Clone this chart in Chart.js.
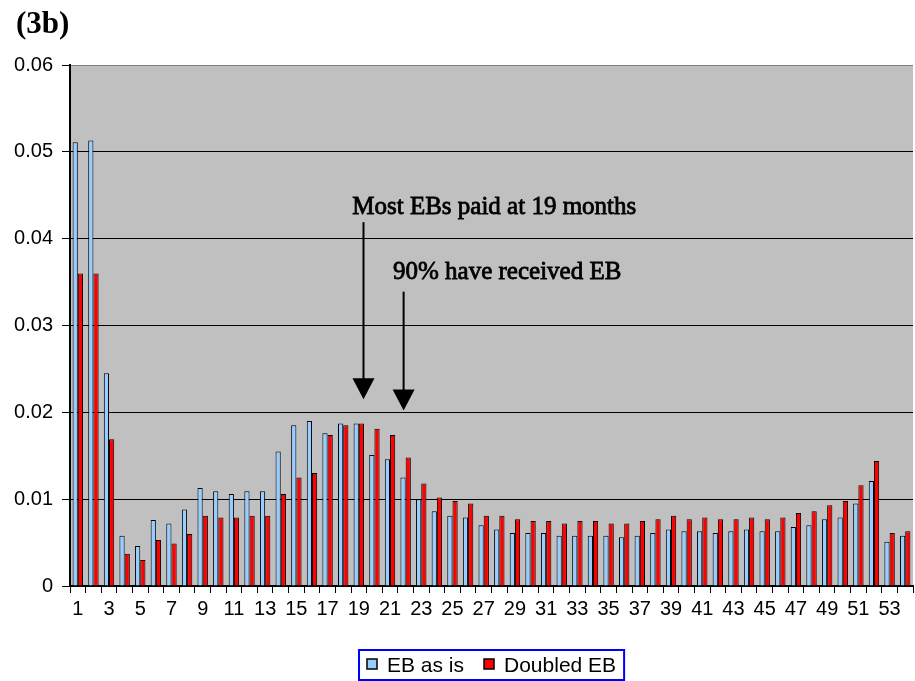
<!DOCTYPE html>
<html>
<head>
<meta charset="utf-8">
<script src="https://cdn.jsdelivr.net/npm/chart.js@4/dist/chart.umd.min.js"></script>
<style>
  html, body { margin: 0; padding: 0; background: #ffffff; }
  #wrap { width: 915px; height: 681px; }
</style>
</head>
<body>
<div id="wrap"><canvas id="c" width="915" height="681"></canvas></div>
<script>
// Months since start of spell (1..54)
const months = [];
for (let m = 1; m <= 54; m++) months.push(String(m));

// Exit hazard, extended benefits as is
const ebAsIs = [
  0.0511, 0.0513, 0.0245, 0.0058, 0.0046, 0.0076, 0.0072, 0.0088, 0.0113, 0.0109,
  0.0106, 0.0109, 0.0109, 0.0155, 0.0185, 0.0190, 0.0176, 0.0187, 0.0187, 0.0151,
  0.0146, 0.0125, 0.0100, 0.0086, 0.0081, 0.0079, 0.0070, 0.0065, 0.0061, 0.0061,
  0.0061, 0.0058, 0.0058, 0.0058, 0.0058, 0.0056, 0.0058, 0.0061, 0.0065, 0.0063,
  0.0063, 0.0061, 0.0063, 0.0065, 0.0063, 0.0063, 0.0068, 0.0070, 0.0077, 0.0079,
  0.0095, 0.0121, 0.0051, 0.0058
];

// Exit hazard, extended benefits doubled
const doubledEB = [
  0.0360, 0.0360, 0.0169, 0.0037, 0.0030, 0.0053, 0.0049, 0.0060, 0.0081, 0.0079,
  0.0079, 0.0081, 0.0081, 0.0106, 0.0125, 0.0130, 0.0174, 0.0185, 0.0187, 0.0181,
  0.0174, 0.0148, 0.0118, 0.0102, 0.0098, 0.0095, 0.0081, 0.0081, 0.0077, 0.0075,
  0.0075, 0.0072, 0.0075, 0.0075, 0.0072, 0.0072, 0.0075, 0.0077, 0.0081, 0.0077,
  0.0079, 0.0077, 0.0077, 0.0079, 0.0077, 0.0079, 0.0084, 0.0086, 0.0093, 0.0098,
  0.0116, 0.0144, 0.0061, 0.0063
];

const seriesNames = ['EB as is', 'Doubled EB'];
const seriesColors = ['#99ccff', '#ff0000'];
const yTicks = [0, 0.01, 0.02, 0.03, 0.04, 0.05, 0.06];

// Callouts: text anchor (category index, value) and arrow (category index, from, to)
const callouts = [
  { text: 'Most EBs paid at 19 months', tx: 17.58, ty: 0.0428, ax: 18.3, ay0: 0.0419, ay1: 0.0215 },
  { text: '90% have received EB',       tx: 20.19, ty: 0.0353, ax: 20.87, ay0: 0.0339, ay1: 0.0202 }
];

const SANS = '"Liberation Sans", Arial, sans-serif';
const SERIF = '"Liberation Serif", "Times New Roman", serif';

const plotBackground = {
  id: 'plotBackground',
  beforeDraw(chart) {
    const { ctx, chartArea: a } = chart;
    ctx.save();
    ctx.fillStyle = '#c0c0c0';
    ctx.fillRect(a.left, a.top, a.right - a.left, a.bottom - a.top);
    ctx.restore();
  }
};

const annotations = {
  id: 'annotations',
  afterDraw(chart) {
    const { ctx } = chart;
    const xs = chart.scales.x, ys = chart.scales.y;
    ctx.save();
    // panel label
    ctx.fillStyle = '#000';
    ctx.font = 'bold 31px ' + SERIF;
    ctx.textBaseline = 'alphabetic';
    ctx.textAlign = 'left';
    ctx.fillText('(3b)', 16, 33);

    callouts.forEach(c => {
      ctx.font = '25px ' + SERIF;
      ctx.fillStyle = '#000';
      ctx.strokeStyle = '#000';
      ctx.lineWidth = 0.8;
      const tx = xs.getPixelForValue(c.tx), ty = ys.getPixelForValue(c.ty);
      ctx.fillText(c.text, tx, ty);
      ctx.strokeText(c.text, tx, ty);

      const ax = xs.getPixelForValue(c.ax);
      const y0 = ys.getPixelForValue(c.ay0), y1 = ys.getPixelForValue(c.ay1);
      const headH = 21, headW = 11;
      ctx.lineWidth = 2;
      ctx.beginPath();
      ctx.moveTo(ax, y0);
      ctx.lineTo(ax, y1 - headH + 1);
      ctx.stroke();
      ctx.beginPath();
      ctx.moveTo(ax - headW, y1 - headH);
      ctx.lineTo(ax + headW, y1 - headH);
      ctx.lineTo(ax, y1);
      ctx.closePath();
      ctx.fill();
    });

    // legend
    const a = chart.chartArea;
    ctx.font = '21px ' + SANS;
    const pad = 8, box = 10, gap = 10, between = 20;
    const w0 = ctx.measureText(seriesNames[0]).width;
    const w1 = ctx.measureText(seriesNames[1]).width;
    const total = pad + box + gap + w0 + between + box + gap + w1 + pad;
    const lx = Math.round((a.left + a.right) / 2 - total / 2);
    const ly = 650, lh = 30;
    ctx.strokeStyle = '#0000ff';
    ctx.lineWidth = 2;
    ctx.strokeRect(lx, ly, total, lh);
    let x = lx + pad;
    const cy = ly + lh / 2;
    seriesNames.forEach((name, i) => {
      ctx.fillStyle = seriesColors[i];
      ctx.fillRect(x, cy - box / 2 - 1, box, box);
      ctx.strokeStyle = '#000';
      ctx.lineWidth = 1.5;
      ctx.strokeRect(x, cy - box / 2 - 1, box, box);
      x += box + gap;
      ctx.fillStyle = '#000';
      ctx.textBaseline = 'middle';
      ctx.fillText(name, x, cy + 1);
      x += (i === 0 ? w0 : w1) + between;
    });
    ctx.restore();
  }
};

new Chart(document.getElementById('c'), {
  type: 'bar',
  data: {
    labels: months,
    datasets: [
      { label: seriesNames[0], data: ebAsIs, backgroundColor: seriesColors[0], borderColor: '#000', borderWidth: 1 },
      { label: seriesNames[1], data: doubledEB, backgroundColor: seriesColors[1], borderColor: '#000', borderWidth: 1 }
    ]
  },
  options: {
    responsive: false,
    animation: false,
    devicePixelRatio: 1,
    categoryPercentage: 0.667,
    barPercentage: 1.0,
    layout: { padding: { left: 0, top: 65, right: 2, bottom: 55 } },
    plugins: { legend: { display: false }, tooltip: { enabled: false } },
    scales: {
      x: {
        z: 1,
        grid: { offset: true, drawOnChartArea: false, color: '#000', tickLength: 7, lineWidth: 1 },
        border: { color: '#000', width: 2 },
        ticks: {
          autoSkip: false, maxRotation: 0, minRotation: 0, padding: 4,
          color: '#000', font: { family: SANS, size: 20 },
          callback: (v, i) => (i % 2 === 0 ? months[i] : '')
        },
        afterFit: s => { s.height = 40; }
      },
      y: {
        min: 0, max: 0.06,
        afterBuildTicks: s => { s.ticks = yTicks.map(v => ({ value: v })); },
        grid: {
          color: c => (c.tick && Math.abs(c.tick.value - 0.06) < 1e-9 ? '#808080' : '#000'),
          tickColor: '#000', tickLength: 8, lineWidth: 1
        },
        border: { color: '#000', width: 2 },
        ticks: {
          padding: 9, color: '#000', font: { family: SANS, size: 20 },
          callback: v => (v === 0 ? '0' : v.toFixed(2))
        },
        afterFit: s => { s.width = 70; }
      }
    }
  },
  plugins: [plotBackground, annotations]
});
</script>
</body>
</html>
